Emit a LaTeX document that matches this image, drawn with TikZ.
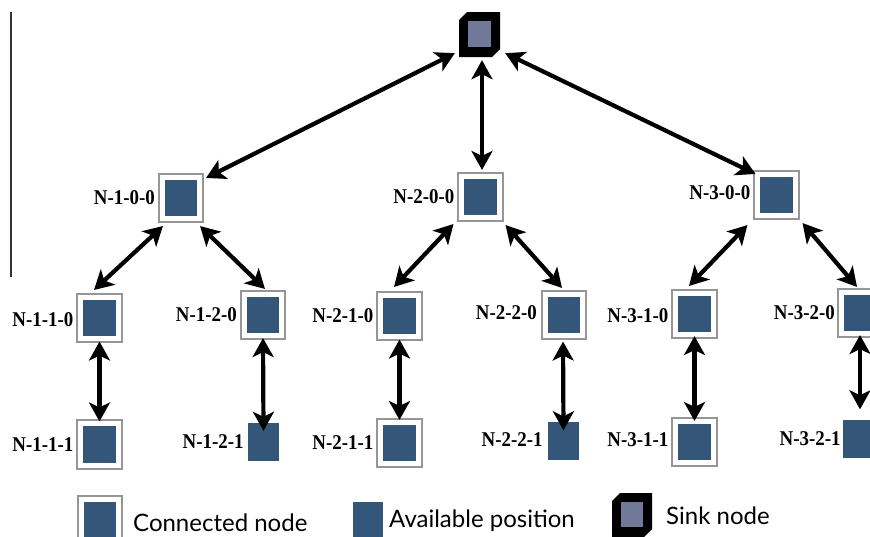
\documentclass[tikz,border=0pt]{standalone}
\usepackage{fontspec}
\setmainfont{Liberation Serif}
\newfontfamily\labfont{Liberation Serif Bold}[FakeStretch=0.9]
\newfontfamily\legfont{Lato}
\usetikzlibrary{arrows.meta}
\definecolor{nblue}{RGB}{52,86,120}
\definecolor{sgrey}{RGB}{112,122,152}
\definecolor{bgray}{RGB}{150,150,150}
\begin{document}
\begin{tikzpicture}[x=1pt,y=-1pt,
  conn/.style={draw=bgray, line width=1.6pt, fill=white, minimum width=44.5pt, minimum height=48.5pt, inner sep=0pt,
    path picture={\fill[nblue] ([shift={(6.2pt,6pt)}]path picture bounding box.south west) rectangle ([shift={(-6.2pt,-6pt)}]path picture bounding box.north east);}},
  avail/.style={fill=nblue, minimum width=31pt, minimum height=38pt, inner sep=0pt},
  sinkbox/.style={minimum width=41pt, minimum height=45pt, inner sep=0pt,
    path picture={
      \fill[black] ([xshift=8pt]path picture bounding box.north west) -- (path picture bounding box.north east)
        -- ([yshift=8pt]path picture bounding box.south east) -- ([xshift=-8pt]path picture bounding box.south east)
        -- (path picture bounding box.south west) -- ([yshift=-8pt]path picture bounding box.north west) -- cycle;
      \fill[sgrey] ([shift={(9pt,10pt)}]path picture bounding box.south west) rectangle ([shift={(-9pt,-9pt)}]path picture bounding box.north east);}},
  lab/.style={font=\labfont\fontsize{21}{21}\selectfont, inner sep=0pt, anchor=east},
  leg/.style={font=\legfont\fontsize{24}{24}\selectfont, inner sep=0pt, anchor=base west},
  biarrow/.style={line width=4.2pt, {Stealth[length=19pt,width=21pt,inset=5pt]}-{Stealth[length=19pt,width=21pt,inset=5pt]}}
]
\useasboundingbox (0,0) rectangle (870,536);
\clip (0,0) rectangle (870,536);

% left rule
\draw[line width=1.3pt, black!80] (11,12) -- (11,277);

% sink
\node[sinkbox] (sink) at (479.5,34.5) {};

% level 1
\node[conn] (n100) at (181,198) {};
\node[conn] (n200) at (480.5,197) {};
\node[conn] (n300) at (776.5,195) {};

% level 2
\node[conn] (n110) at (99.5,318) {};
\node[conn] (n120) at (263,315) {};
\node[conn] (n210) at (399.5,316) {};
\node[conn] (n220) at (564,315) {};
\node[conn] (n310) at (694.5,314) {};
\node[conn] (n320) at (860,313) {};

% level 3
\node[conn] (n111) at (99.5,444.5) {};
\node[avail] (n121) at (263.5,442) {};
\node[conn] (n211) at (399.5,443) {};
\node[avail] (n221) at (563.5,440.5) {};
\node[conn] (n311) at (694.5,442) {};
\node[avail] (n321) at (858.5,438.5) {};

% labels
\node[lab] at ([xshift=-3pt]n100.west) {N-1-0-0};
\node[lab] at ([xshift=-3pt]n200.west) {N-2-0-0};
\node[lab] at ([shift={(-3pt,2pt)}]n300.west) {N-3-0-0};
\node[lab] at ([shift={(-3pt,-2pt)}]n110.west) {N-1-1-0};
\node[lab] at ([shift={(-3pt,0pt)}]n120.west) {N-1-2-0};
\node[lab] at ([xshift=-3pt]n210.west) {N-2-1-0};
\node[lab] at ([shift={(-4pt,2pt)}]n220.west) {N-2-2-0};
\node[lab] at ([shift={(-3pt,-2pt)}]n310.west) {N-3-1-0};
\node[lab] at ([shift={(-2pt,0pt)}]n320.west) {N-3-2-0};
\node[lab] at ([shift={(-3pt,0pt)}]n111.west) {N-1-1-1};
\node[lab] at ([shift={(-4pt,0pt)}]n121.west) {N-1-2-1};
\node[lab] at ([shift={(-3pt,0pt)}]n211.west) {N-2-1-1};
\node[lab] at ([shift={(-5pt,1pt)}]n221.west) {N-2-2-1};
\node[lab] at ([shift={(-3pt,2pt)}]n311.west) {N-3-1-1};
\node[lab] at ([shift={(-2pt,0pt)}]n321.west) {N-3-2-1};

% arrows
\draw[biarrow] ([shift={(-4,-4)}]sink.south west) -- ([shift={(2,5)}]n100.north east);
\draw[biarrow] ([shift={(2.5,3)}]sink.south) -- ([shift={(1.5,-2)}]n200.north);
\draw[biarrow] ([shift={(5,-4)}]sink.south east) -- ([shift={(2,4)}]n300.north west);

\draw[biarrow] ([shift={(5,3)}]n100.south west) -- ([shift={(-5.5,-3)}]n110.north);
\draw[biarrow] ([shift={(-4,3)}]n100.south east) -- ([shift={(2,-1)}]n120.north);
\draw[biarrow] ([shift={(-4,2)}]n200.south west) -- ([shift={(-5.5,-4)}]n210.north);
\draw[biarrow] ([shift={(2,3)}]n200.south east) -- ([shift={(-2,-2)}]n220.north);
\draw[biarrow] ([shift={(-6,5)}]n300.south west) -- ([shift={(-5.5,-3)}]n310.north);
\draw[biarrow] ([shift={(3,3)}]n300.south east) -- ([shift={(-3,-1)}]n320.north);

\draw[biarrow] ([yshift=1.5]n110.south) -- ([yshift=-2]n111.north);
\draw[biarrow] ([yshift=2]n120.south) -- ([yshift=-8]n121.north);
\draw[biarrow] ([yshift=1.5]n210.south) -- ([yshift=-2]n211.north);
\draw[biarrow] ([shift={(-1,1.5)}]n220.south) -- ([yshift=-9]n221.north);
\draw[biarrow] ([yshift=3]n310.south) -- ([yshift=-4]n311.north);
\draw[biarrow] ([yshift=3]n320.south) -- ([shift={(1.5,-10)}]n321.north);

% legend
\node[conn] (lc) at (100,520) {};
\node[leg] (lct) at (133,531) {Connected node};
\node[avail, minimum width=30pt] (la) at (368,521) {};
\node[leg] (lat) at (389,527) {Available position};
\node[sinkbox, minimum width=40pt, minimum height=44pt] (ls) at (632,515) {};
\node[leg] (lst) at (666,524) {Sink node};
\end{tikzpicture}
\end{document}
